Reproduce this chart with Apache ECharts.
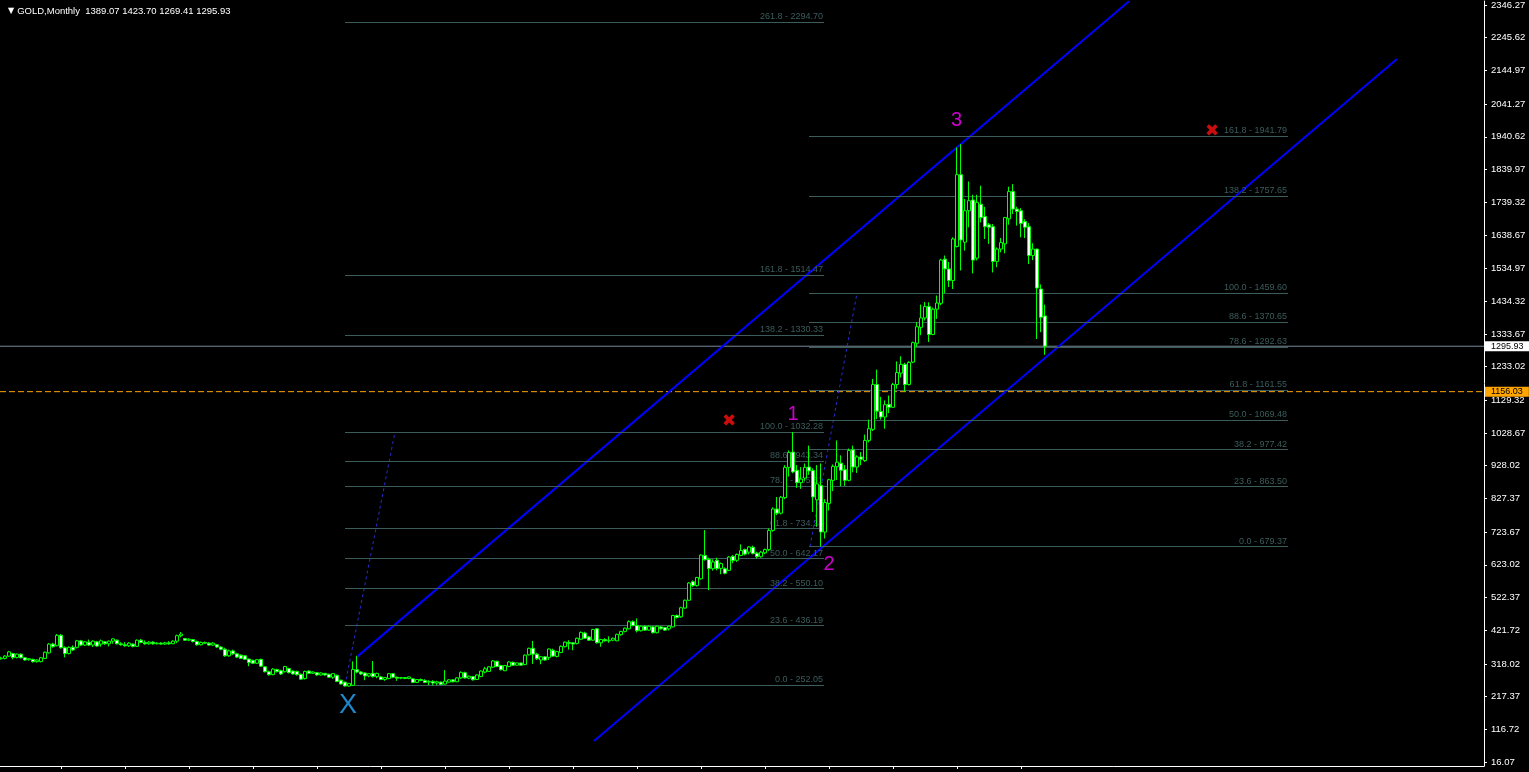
<!DOCTYPE html>
<html><head><meta charset="utf-8">
<style>html,body{margin:0;padding:0;background:#000;overflow:hidden}#c{width:1529px;height:772px}</style>
<script src="https://cdn.jsdelivr.net/npm/echarts@6/dist/echarts.min.js"></script>
</head><body><div id="c"></div>
<script>
const symbolName = 'GOLD,Monthly';
// monthly bars, one per bar index: [open, close, low, high]
const bars = [
[334,336,331,340],[335,342,332,345],[342,355,340,358],[350,338,332,352],[338,348,335,350],
[348,337,335,350],[337,330,328,339],[331,334,328,336],[332,325,322,334],[325,330,322,332],
[325,337,323,339],[335,354,333,356],[352,379,350,382],[379,371,368,383],[374,406,372,410],
[406,368,365,410],[368,350,338,372],[350,369,347,372],[369,361,358,375],[369,389,366,392],
[389,376,373,392],[376,386,373,389],[385,376,373,393],[376,388,370,391],[386,373,371,389],
[379,389,371,393],[386,380,377,388],[380,388,372,390],[388,395,380,397],[391,380,378,393],
[380,377,374,385],[377,374,371,385],[374,382,370,385],[379,372,369,381],[372,391,370,393],
[391,384,382,395],[384,380,377,390],[380,385,377,388],[385,380,377,388],[380,382,378,385],
[382,379,377,385],[379,383,377,386],[383,380,377,388],[380,388,379,391],[388,405,382,408],
[405,410,400,416],[396,391,389,398],[391,394,388,397],[393,387,384,395],[387,377,374,390],
[377,384,375,387],[384,382,380,387],[382,376,374,385],[376,382,373,385],[377,370,367,379],
[370,363,360,372],[363,343,340,368],[343,358,340,362],[358,349,346,362],[349,339,336,352],
[345,335,333,347],[343,332,330,345],[333,322,311,334],[329,320,318,331],[320,331,318,333],
[332,311,309,334],[309,294,292,311],[294,285,282,297],[285,302,283,305],[301,294,292,303],
[297,287,284,300],[294,310,292,312],[304,291,289,306],[296,287,285,298],[295,285,282,297],
[286,271,269,288],[273,295,270,297],[296,289,287,298],[289,293,287,295],[291,284,282,293],
[284,290,282,292],[289,284,282,290],[286,277,275,288],[277,288,272,290],[283,264,262,285],
[268,256,255,269],[262,250,249,263],[250,258,248,259],[252,301,251,326],[300,293,289,343],
[293,287,284,296],[290,281,268,292],[281,288,277,290],[289,279,276,327],[279,289,274,291],
[278,270,268,281],[270,276,266,278],[273,288,271,290],[288,277,274,290],[277,274,266,279],
[274,276,271,277],[276,273,271,277],[273,278,271,279],[272,261,259,274],[261,270,259,271],
[270,267,265,273],[267,261,259,271],[262,264,253,268],[264,259,252,268],[259,263,253,266],
[262,255,253,264],[256,265,254,299],[262,269,261,271],[269,263,261,271],[263,275,262,277],
[275,292,272,295],[291,275,273,294],[274,280,271,282],[279,269,267,281],[270,284,269,286],
[279,296,278,298],[293,303,289,309],[295,309,293,311],[308,327,306,330],[326,310,308,328],
[313,300,298,315],[297,313,296,315],[310,324,308,326],[323,314,312,325],[314,321,313,322],
[321,314,313,322],[316,345,314,347],[346,366,344,368],[366,348,318,389],[348,334,330,352],
[330,340,317,342],[340,330,328,342],[338,364,330,366],[360,342,340,365],[341,356,338,358],
[353,372,352,375],[371,385,369,387],[384,381,362,391],[383,379,360,385],[381,397,378,399],
[394,415,392,418],[413,397,395,417],[401,391,389,404],[391,424,390,426],[426,383,381,428],
[383,393,371,395],[393,389,387,397],[389,391,383,403],[391,397,388,399],[389,409,388,411],
[408,418,405,420],[418,428,415,430],[426,448,425,452],[448,436,434,452],[436,420,415,458],
[420,434,418,436],[434,422,420,436],[422,434,420,436],[432,414,412,435],[414,434,412,436],
[432,426,424,435],[430,422,420,432],[426,434,421,436],[432,467,431,469],[467,461,458,470],
[463,491,460,494],[490,514,488,516],[514,567,512,570],[571,559,555,575],[559,584,556,586],
[580,653,578,655],[652,639,636,730],[640,612,545,645],[611,632,605,640],[637,612,606,645],
[612,627,594,630],[611,597,594,615],[606,647,604,650],[649,636,628,653],[637,655,632,658],
[652,667,650,686],[670,656,652,673],[662,678,655,681],[677,658,655,682],[659,648,643,663],
[648,662,645,666],[660,670,656,673],[670,729,665,735],[729,795,725,800],[795,782,776,832],
[782,831,778,835],[830,923,825,930],[923,969,895,975],[970,909,905,1032],[914,876,860,930],
[876,887,857,924],[890,923,882,935],[924,912,900,990],[913,832,786,920],[823,872,740,930],
[867,724,680,935],[724,815,704,825],[812,885,790,888],[883,926,850,932],[925,939,884,1006],
[936,914,865,960],[916,883,866,930],[883,975,880,981],[977,924,908,990],[924,955,906,960],
[955,948,930,970],[944,1006,940,1024],[1006,1042,1000,1070],[1040,1178,1035,1195],[1178,1096,1072,1224],
[1095,1078,1070,1140],[1078,1116,1042,1129],[1117,1108,1090,1144],[1108,1178,1106,1183],[1178,1215,1165,1249],
[1213,1240,1200,1265],[1240,1178,1157,1245],[1178,1246,1175,1250],[1247,1307,1244,1310],[1305,1356,1294,1370],
[1354,1383,1330,1424],[1383,1418,1375,1432],[1418,1332,1309,1431],[1332,1410,1330,1415],[1410,1429,1380,1452],
[1428,1561,1422,1565],[1564,1534,1459,1575],[1534,1498,1478,1555],[1498,1626,1472,1631],[1603,1824,1600,1908],
[1824,1623,1529,1918],[1616,1713,1590,1749],[1713,1744,1662,1803],[1746,1561,1520,1762],[1567,1739,1560,1762],
[1733,1692,1677,1790],[1695,1664,1626,1725],[1670,1662,1611,1675],[1664,1557,1523,1672],[1557,1595,1539,1600],
[1595,1615,1585,1629],[1611,1692,1582,1694],[1688,1772,1670,1787],[1772,1718,1703,1795],[1718,1711,1667,1725],
[1713,1674,1631,1721],[1680,1662,1629,1687],[1664,1575,1549,1675],[1575,1595,1561,1613],[1595,1475,1318,1596],
[1472,1385,1339,1486],[1389.07,1295.93,1269.41,1423.70]
];
const priceTicks = [2346.27,2245.62,2144.97,2041.27,1940.62,1839.97,1739.32,1638.67,1534.97,1434.32,1333.67,1233.02,1129.32,1028.67,928.02,827.37,723.67,623.02,522.37,421.72,318.02,217.37,116.72,16.07];
const timeTickBars = [15,31,47,63,79,95,111,127,143,159,175,191,207,223,239,255];
const bidPrice = 1295.93;
const alertPrice = 1156.03;

const fibALevels = ['0.0','23.6','38.2','50.0','61.8','78.6','88.6','100.0','138.2','161.8','261.8'];
const fibAPrices = [252.05,436.19,550.10,642.17,734.24,865.31,943.34,1032.28,1330.33,1514.47,2294.70];
const fibABars = [86, 205.75];
const fibAAnchor = [[86,252.05],[98.5,1032.28]];
const fibBLevels = ['0.0','23.6','38.2','50.0','61.8','78.6','88.6','100.0','138.2','161.8'];
const fibBPrices = [679.37,863.50,977.42,1069.48,1161.55,1292.63,1370.65,1459.60,1757.65,1941.79];
const fibBBars = [202, 321.75];
const fibBAnchor = [[202.25,679.37],[214,1459.60]];

const channelUpper = [[89.2,342],[282,2358]];
const channelLower = [[148.25,80.7],[349,2180.3]];

const waveText = ['X','1','2','3'];
const waveBars = [86.75,198,207,238.9];
const wavePrices = [191,1086,625,1992];
const crossBars = [182,302.75];
const crossPrices = [1064,1956];

const X_MIN = -0.25, X_MAX = 370.75;
const last = bars[bars.length-1];
const header = '{tri|▼}' + symbolName + '  ' + [last[0], last[3], last[2], last[1]].map(v => v.toFixed(2)).join(' ');

const FONT = 'Liberation Sans';
const fibColor = '#3c5c5c';

function fibLines(levels, prices, xr) {
  return levels.map((lv, k) => [
    {coord:[xr[0], prices[k]], label:{formatter: lv + ' - ' + prices[k].toFixed(2)}},
    {coord:[xr[1], prices[k]]}
  ]);
}
function priceLabel(value, boxColor) {
  return {type:'line', data:[], z:6, silent:true,
    markLine:{symbol:['none','none'], silent:true, animation:false,
      lineStyle:{color:'rgba(0,0,0,0)', width:1},
      label:{show:true, position:'end', formatter:value.toFixed(2), color:'#000', backgroundColor:boxColor,
        padding:[1,6,0,6], fontSize:9, fontFamily:FONT, distance:1},
      data:[{yAxis:value}]}};
}
function priceLine(value, color, type) {
  return {type:'line', z:1, silent:true, symbol:'none', data:[[X_MIN, value],[X_MAX, value]],
    lineStyle:{color:color, width:1, type:type}, itemStyle:{color:color}};
}

const chart = echarts.init(document.getElementById('c'));
chart.setOption({
  backgroundColor:'#000',
  animation:false,
  title:{text:header, left:3, top:1, textStyle:{color:'#fff', fontSize:9.5, fontFamily:FONT, fontWeight:'normal',
    rich:{tri:{fontSize:8, color:'#fff', fontFamily:'DejaVu Sans', padding:[0,3,0,0]}}}},
  grid:{left:0, top:0, width:1484, height:766},
  xAxis:{type:'value', min:X_MIN, max:X_MAX,
    axisLine:{show:true, onZero:false, lineStyle:{color:'#fff', width:1}},
    axisTick:{show:true, customValues:timeTickBars, length:3, lineStyle:{color:'#fff'}},
    axisLabel:{show:false}, splitLine:{show:false}},
  yAxis:{type:'value', position:'right', min:3.77, max:2358.57,
    axisLine:{show:true, onZero:false, lineStyle:{color:'#fff', width:1}},
    axisTick:{show:true, customValues:priceTicks, length:3, lineStyle:{color:'#fff'}},
    axisLabel:{show:true, customValues:priceTicks, formatter:v => v.toFixed(2), color:'#fff', fontSize:9.5, fontFamily:FONT, margin:7},
    splitLine:{show:false}},
  series:[
    {type:'line', data:[], z:1, silent:true,
      markLine:{symbol:['none','none'], silent:true, animation:false,
        lineStyle:{color:fibColor, width:1, type:'solid'},
        label:{show:true, position:'insideEndTop', color:fibColor, fontSize:9, fontFamily:FONT, distance:1},
        data: fibLines(fibALevels, fibAPrices, fibABars).concat(fibLines(fibBLevels, fibBPrices, fibBBars))}},
    priceLine(bidPrice, '#778899', 'solid'),
    priceLine(alertPrice, '#FFA500', [6,3]),
    priceLabel(bidPrice, '#ffffff'),
    priceLabel(alertPrice, '#FFA500'),
    {type:'line', data:fibAAnchor, z:2, symbol:'none', silent:true, lineStyle:{color:'#2a2ad0', width:1, type:[3,3]}},
    {type:'line', data:fibBAnchor, z:2, symbol:'none', silent:true, lineStyle:{color:'#2a2ad0', width:1, type:[3,3]}},
    {type:'line', data:channelUpper, z:3, symbol:'none', silent:true, clip:true, lineStyle:{color:'#0000ff', width:2}},
    {type:'line', data:channelLower, z:3, symbol:'none', silent:true, clip:true, lineStyle:{color:'#0000ff', width:2}},
    {type:'scatter', z:4, silent:true, symbolSize:1, itemStyle:{color:'rgba(0,0,0,0)'},
      data: waveText.map((t,k) => ({value:[waveBars[k], wavePrices[k]], name:t,
        label:{show:true, position:'inside', formatter:t, fontFamily:FONT,
          color: t === 'X' ? '#26A9FF' : '#FF00FF', fontSize: t === 'X' ? 27 : 20}}))},
    {type:'scatter', z:4, silent:true, symbolSize:1, itemStyle:{color:'rgba(0,0,0,0)'},
      data: crossBars.map((b,k) => ({value:[b, crossPrices[k]],
        label:{show:true, position:'inside', formatter:'✖', color:'#FF1010', fontSize:17, fontFamily:'DejaVu Sans'}}))},
    {type:'candlestick', z:5, silent:true, barWidth:3,
      encode:{x:0, y:[1,2,3,4]},
      data: bars.map((b,i) => [i, b[0], b[1], b[2], b[3]]),
      itemStyle:{color:'#000', color0:'#fff', borderColor:'#00ff00', borderColor0:'#00ff00', borderWidth:1}}
  ]
});
</script></body></html>
